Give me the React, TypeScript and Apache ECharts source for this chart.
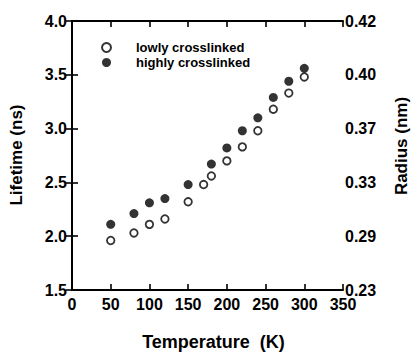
import React, { useEffect, useRef } from "react";
import * as echarts from "echarts";

const lowTemps = [50, 80, 100, 120, 150, 170, 180, 200, 220, 240, 260, 280, 300];
const lowLifetimes = [1.96, 2.03, 2.11, 2.16, 2.32, 2.48, 2.56, 2.7, 2.83, 2.98, 3.18, 3.33, 3.48];
const highTemps = [50, 80, 100, 120, 150, 180, 200, 220, 240, 260, 280, 300];
const highLifetimes = [2.11, 2.21, 2.31, 2.35, 2.48, 2.67, 2.82, 2.98, 3.1, 3.29, 3.44, 3.56];
const lifetimeTicks = [1.5, 2.0, 2.5, 3.0, 3.5, 4.0];
const radiusLabels = ["0.23", "0.29", "0.33", "0.37", "0.40", "0.42"];

const FONT = "'Liberation Sans', Arial, sans-serif";

export default function App() {
  const ref = useRef<HTMLDivElement>(null);
  useEffect(() => {
    if (!ref.current) return;
    const chart = echarts.init(ref.current, null, { renderer: "svg" });
    const axisLine = { show: true, lineStyle: { color: "#000", width: 2 } };
    const mkTick = () => ({ show: true, inside: true, length: 6, lineStyle: { color: "#000", width: 1.6 } });
    const label = { color: "#000", fontFamily: FONT, fontWeight: "bold" as const, fontSize: 16 };
    const nameStyle = { fill: "#000", font: `bold 17px ${FONT}`, textAlign: "center" as const, textVerticalAlign: "middle" as const };
    chart.setOption({
      animation: false,
      backgroundColor: "#fff",
      grid: { left: 72, right: 69, top: 21, bottom: 62 },
      legend: {
        orient: "vertical",
        left: 96,
        top: 36,
        itemWidth: 9,
        itemHeight: 9,
        itemGap: 2,
        textStyle: { color: "#000", fontFamily: FONT, fontWeight: "bold", fontSize: 13, padding: [0, 0, 0, 20] },
        data: ["lowly crosslinked", "highly crosslinked"],
      },
      graphic: [
        { type: "text", x: 16, y: 155, rotation: Math.PI / 2, style: { ...nameStyle, text: "Lifetime (ns)" } },
        { type: "text", x: 401, y: 146, rotation: Math.PI / 2, style: { ...nameStyle, text: "Radius (nm)" } },
      ],
      xAxis: [
        {
          type: "value",
          min: 0,
          max: 350,
          interval: 50,
          position: "bottom",
          axisLine,
          axisTick: mkTick(),
          splitLine: { show: false },
          axisLabel: { ...label, margin: 6 },
          name: "Temperature  (K)",
          nameLocation: "middle",
          nameGap: 43,
          nameTextStyle: { color: "#000", fontFamily: FONT, fontWeight: "bold", fontSize: 18, padding: [0, 0, 0, 12] },
        },
        {
          type: "value",
          min: 0,
          max: 350,
          interval: 50,
          position: "top",
          axisLine,
          axisTick: mkTick(),
          splitLine: { show: false },
          axisLabel: { show: false },
        },
      ],
      yAxis: [
        {
          type: "value",
          min: 1.5,
          max: 4.0,
          interval: 0.5,
          position: "left",
          axisLine,
          axisTick: mkTick(),
          splitLine: { show: false },
          axisLabel: { ...label, margin: 5, padding: [0, 0, 4, 0], formatter: (v: number) => v.toFixed(1) },
        },
        {
          type: "value",
          min: 1.5,
          max: 4.0,
          interval: 0.5,
          position: "right",
          axisLine,
          axisTick: mkTick(),
          splitLine: { show: false },
          axisLabel: {
            ...label,
            margin: 2,
            padding: [0, 0, 9, 0],
            formatter: (v: number) => {
              const i = lifetimeTicks.findIndex((t) => Math.abs(t - v) < 1e-6);
              return i >= 0 ? radiusLabels[i] : "";
            },
          },
        },
      ],
      series: [
        {
          name: "lowly crosslinked",
          type: "scatter",
          symbol: "circle",
          symbolSize: 7.5,
          itemStyle: { color: "#fff", borderColor: "#000", borderWidth: 1.8 },
          data: lowTemps.map((t, i) => [t, lowLifetimes[i]]),
        },
        {
          name: "highly crosslinked",
          type: "scatter",
          symbol: "circle",
          symbolSize: 9,
          itemStyle: { color: "#000" },
          data: highTemps.map((t, i) => [t, highLifetimes[i]]),
        },
      ],
    });
    return () => chart.dispose();
  }, []);
  return <div ref={ref} style={{ width: 412, height: 356, position: "absolute", left: 0, top: 0 }} />;
}
